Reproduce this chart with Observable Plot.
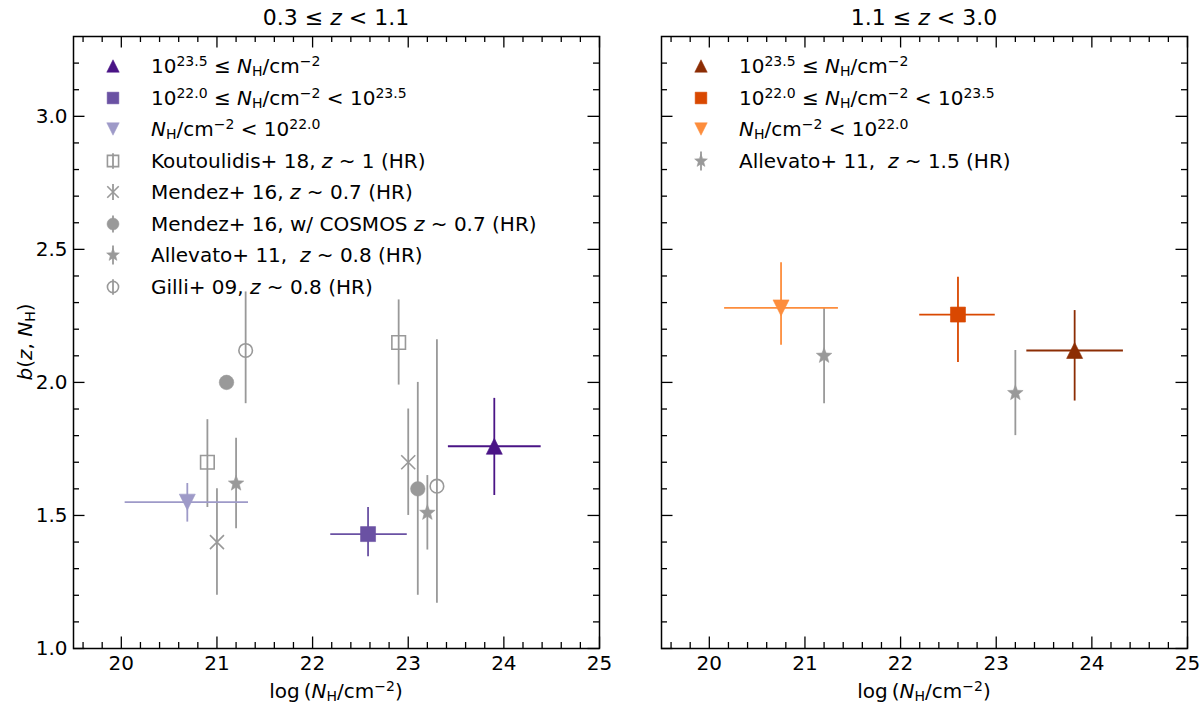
<!DOCTYPE html>
<html>
<head>
<meta charset="utf-8">
<script src="https://cdn.jsdelivr.net/npm/d3@7"></script>
<script src="https://cdn.jsdelivr.net/npm/@observablehq/plot@0.6"></script>
<style>
  body { margin: 0; background: #fff; font-family: "DejaVu Sans", sans-serif; }
  #fig { position: relative; width: 1200px; height: 709px; overflow: hidden; }
  #fig svg.plot { position: absolute; top: 0; }
  .t { position: absolute; white-space: nowrap; color: #000; line-height: 1; }
  .sup { font-size: 0.7em; position: relative; top: -0.5em; }
  .sub { font-size: 0.7em; position: relative; top: 0.22em; }
</style>
</head>
<body>
<div id="fig"></div>
<script>
// bias b(z, N_H) in N_H bins, two redshift ranges

// 0.3 <= z < 1.1 : our bins (high, mid, low N_H)
const binKeys = ["high", "mid", "low"];
const lowzNH = [23.90, 22.58, 20.69];
const lowzNHmin = [23.42, 22.19, 20.04];
const lowzNHmax = [24.39, 22.99, 21.33];
const lowzB = [1.76, 1.43, 1.55];
const lowzBmin = [1.575, 1.345, 1.475];
const lowzBmax = [1.94, 1.53, 1.62];

// 1.1 <= z < 3.0
const highzNH = [23.82, 22.60, 20.75];
const highzNHmin = [23.32, 22.20, 20.16];
const highzNHmax = [24.33, 22.99, 21.35];
const highzB = [2.12, 2.255, 2.28];
const highzBmin = [1.93, 2.075, 2.14];
const highzBmax = [2.27, 2.395, 2.45];

// literature, low z (soft = unabsorbed, hard = absorbed)
const litKeys = ["kout", "mendez", "cosmos", "allevato", "gilli"];
const litSoftNH = [20.9, 21.0, 21.1, 21.2, 21.3];
const litSoftB = [1.70, 1.40, 2.00, 1.62, 2.12];
const litSoftBmin = [1.53, 1.20, null, 1.45, 1.92];
const litSoftBmax = [1.86, 1.60, null, 1.79, 2.34];
const litHardNH = [22.9, 23.0, 23.1, 23.2, 23.3];
const litHardB = [2.15, 1.70, 1.60, 1.51, 1.61];
const litHardBmin = [1.99, 1.50, 1.20, 1.37, 1.17];
const litHardBmax = [2.31, 1.90, 2.00, 1.65, 2.16];

// literature, high z (Allevato+ 11, z~1.5)
const alleNH = [21.2, 23.2];
const alleB = [2.10, 1.96];
const alleBmin = [1.92, 1.80];
const alleBmax = [2.28, 2.12];

// ticks
const majorX = [20, 21, 22, 23, 24, 25];
const majorY = [1.0, 1.5, 2.0, 2.5, 3.0];

// legend texts
const binLabels = [
  '10<span class="sup">23.5</span> ≤ <i>N</i><span class="sub">H</span>/cm<span class="sup">−2</span>',
  '10<span class="sup">22.0</span> ≤ <i>N</i><span class="sub">H</span>/cm<span class="sup">−2</span> &lt; 10<span class="sup">23.5</span>',
  '<i>N</i><span class="sub">H</span>/cm<span class="sup">−2</span> &lt; 10<span class="sup">22.0</span>'
];
const litLabels = [
  'Koutoulidis+ 18, <i>z</i> ~ 1 (HR)',
  'Mendez+ 16, <i>z</i> ~ 0.7 (HR)',
  'Mendez+ 16, w/ COSMOS <i>z</i> ~ 0.7 (HR)',
  'Allevato+ 11,&nbsp; <i>z</i> ~ 0.8 (HR)',
  'Gilli+ 09, <i>z</i> ~ 0.8 (HR)'
];
const alleLabel = 'Allevato+ 11,&nbsp; <i>z</i> ~ 1.5 (HR)';

// styles
const purples = ["#4a1486", "#6a51a3", "#9e9ac8"];
const oranges = ["#8c2d04", "#d94801", "#fd8d3c"];
const gray = "#999999";
const binSym = ["up", "square", "down"];
const binR = [8, 7.5, 8];
const litSym = ["square", "times", "circle", "star", "circle"];
const litFilled = [false, false, true, true, false];
const litR = [6.8, 7, 7.3, 8.2, 6.8];

// marker shapes, r = half size in px (Plot passes size = r*r*PI)
const shapes = {
  up: (c, r) => { c.moveTo(0, -r); c.lineTo(r, r); c.lineTo(-r, r); c.closePath(); },
  down: (c, r) => { c.moveTo(0, r); c.lineTo(r, -r); c.lineTo(-r, -r); c.closePath(); },
  square: (c, r) => { c.moveTo(-r, -r); c.lineTo(r, -r); c.lineTo(r, r); c.lineTo(-r, r); c.closePath(); },
  circle: (c, r) => { c.moveTo(r, 0); c.arc(0, 0, r, 0, 2 * Math.PI); },
  times: (c, r) => { c.moveTo(-r, -r); c.lineTo(r, r); c.moveTo(-r, r); c.lineTo(r, -r); },
  star: (c, r) => {
    for (let i = 0; i < 10; i++) {
      const a = -Math.PI / 2 + i * Math.PI / 5, rr = i % 2 ? r * 0.43 : r;
      i ? c.lineTo(rr * Math.cos(a), rr * Math.sin(a)) : c.moveTo(rr * Math.cos(a), rr * Math.sin(a));
    }
    c.closePath();
  }
};
const SYM = Object.fromEntries(Object.entries(shapes).map(([k, f]) =>
  [k, {draw: (c, size) => f(c, Math.sqrt(size / Math.PI))}]));

const W = 600, H = 709, mT = 36, mB = 61;
const fig = d3.select("#fig");

function panel({mL, mR, left, offset, bins, lit}) {
  const fw = W - mL - mR, fh = H - mT - mB;
  const minorX = d3.range(19.6, 25, 0.2).filter(v => Math.abs(v - Math.round(v)) > 0.05);
  const minorY = d3.range(1.1, 3.25, 0.1).filter(v => Math.abs(v * 2 - Math.round(v * 2)) > 0.05);

  const marks = [
    // gray literature error bars + markers
    Plot.ruleX(lit.filter(d => d.y1 != null), {x: "x", y1: "y1", y2: "y2", stroke: gray, strokeWidth: 1.8}),
    ...lit.map(d => Plot.dot([d], {
      x: "x", y: "y", r: d.r, symbol: SYM[d.sym],
      fill: d.filled ? gray : "none", stroke: gray, strokeWidth: d.filled ? 0.5 : 1.6
    })),
    // our bins
    Plot.ruleY(bins, {y: "y", x1: "x1", x2: "x2", stroke: "color", strokeWidth: 1.8}),
    Plot.ruleX(bins, {x: "x", y1: "y1", y2: "y2", stroke: "color", strokeWidth: 1.8}),
    ...bins.map(d => Plot.dot([d], {x: "x", y: "y", r: d.r, symbol: SYM[d.sym], fill: d.color, stroke: d.color, strokeWidth: 0.6})),
    // inward ticks on four sides
    Plot.tickX(majorX, {insetTop: fh - 11.5, strokeWidth: 1.3}),
    Plot.tickX(minorX, {insetTop: fh - 6, strokeWidth: 1.3}),
    Plot.tickX(majorX, {insetBottom: fh - 11.5, strokeWidth: 1.3}),
    Plot.tickX(minorX, {insetBottom: fh - 6, strokeWidth: 1.3}),
    Plot.tickY(majorY, {insetRight: fw - 11.5, strokeWidth: 1.3}),
    Plot.tickY(minorY, {insetRight: fw - 6, strokeWidth: 1.3}),
    Plot.tickY(majorY, {insetLeft: fw - 11.5, strokeWidth: 1.3}),
    Plot.tickY(minorY, {insetLeft: fw - 6, strokeWidth: 1.3}),
    Plot.frame({stroke: "black", strokeWidth: 1.5}),
    Plot.axisX(majorX, {tickSize: 0, tickPadding: 7, tickFormat: d => d, label: null})
  ];
  if (left) marks.push(Plot.axisY(majorY, {tickSize: 0, tickPadding: 6, tickFormat: d3.format(".1f"), label: null}));

  const svg = Plot.plot({
    width: W, height: H,
    marginLeft: mL, marginRight: mR, marginTop: mT, marginBottom: mB,
    x: {domain: [19.5, 25]},
    y: left ? {domain: [1.0, 3.3]} : {domain: [1.0, 3.3], axis: null},
    color: {type: "identity"},
    style: {fontFamily: "DejaVu Sans, sans-serif", fontSize: "20px", color: "black", background: "transparent", overflow: "visible"},
    marks
  });
  svg.classList.add("plot");
  svg.style.left = offset + "px";
  fig.append(() => svg);
}

const rowsBins = (nh, nhmin, nhmax, b, bmin, bmax, colors) => binKeys.map((k, i) => ({
  k, x: nh[i], x1: nhmin[i], x2: nhmax[i], y: b[i], y1: bmin[i], y2: bmax[i],
  color: colors[i], sym: binSym[i], r: binR[i]
}));

const litLow = [
  ...litKeys.map((k, i) => ({k, x: litSoftNH[i], y: litSoftB[i], y1: litSoftBmin[i], y2: litSoftBmax[i], sym: litSym[i], filled: litFilled[i], r: litR[i]})),
  ...litKeys.map((k, i) => ({k, x: litHardNH[i], y: litHardB[i], y1: litHardBmin[i], y2: litHardBmax[i], sym: litSym[i], filled: litFilled[i], r: litR[i]}))
];
const litHigh = alleNH.map((x, i) => ({k: "allevato", x, y: alleB[i], y1: alleBmin[i], y2: alleBmax[i], sym: "star", filled: true, r: litR[3]}));

panel({mL: 73, mR: 1, left: true, offset: 0,
  bins: rowsBins(lowzNH, lowzNHmin, lowzNHmax, lowzB, lowzBmin, lowzBmax, purples), lit: litLow});
panel({mL: 61, mR: 13, left: false, offset: 600,
  bins: rowsBins(highzNH, highzNHmin, highzNHmax, highzB, highzBmin, highzBmax, oranges), lit: litHigh});

// text overlays
function txt(x, y, html, size, opts = {}) {
  const d = fig.append("div").attr("class", "t").html(html)
    .style("left", x + "px").style("top", y + "px").style("font-size", size + "px");
  const tx = opts.start ? "0" : "-50%";
  d.style("transform", `translate(${tx}, -50%)` + (opts.rotate ? ` rotate(${opts.rotate}deg)` : ""));
  return d;
}
txt(336, 18, '0.3 ≤ <i>z</i> &lt; 1.1', 22);
txt(924, 18, '1.1 ≤ <i>z</i> &lt; 3.0', 22);
const xlab = 'log<span style="margin-left:4px">(</span><i>N</i><span class="sub">H</span>/cm<span class="sup">−2</span>)';
txt(336, 691, xlab, 20);
txt(924, 691, xlab, 20);
txt(25, 342, '<i>b</i>(<i>z</i>, <i>N</i><span class="sub">H</span>)', 20, {rotate: -90});

// legend
function legendMarker(x, y, sym, r, color, filled, bar) {
  const s = 30;
  const svg = fig.append("svg").attr("width", s).attr("height", s)
    .style("position", "absolute").style("left", (x - s / 2) + "px").style("top", (y - s / 2) + "px");
  const g = svg.append("g").attr("transform", `translate(${s / 2},${s / 2})`);
  if (bar) g.append("line").attr("y1", -r * 1.4).attr("y2", r * 1.4).attr("stroke", color).attr("stroke-width", 1.8);
  const p = d3.path();
  shapes[sym](p, r);
  g.append("path").attr("d", p.toString())
    .attr("fill", filled ? color : "none").attr("stroke", color).attr("stroke-width", filled ? 0.5 : 1.6);
}
const rowY = [66, 97.5, 129, 160.5, 192, 223.5, 255, 286.5];
binKeys.forEach((k, i) => {
  legendMarker(113, rowY[i], binSym[i], binR[i] * 0.78, purples[i], true, false);
  txt(151, rowY[i], binLabels[i], 20, {start: true});
  legendMarker(701, rowY[i], binSym[i], binR[i] * 0.78, oranges[i], true, false);
  txt(739, rowY[i], binLabels[i], 20, {start: true});
});
litKeys.forEach((k, i) => {
  legendMarker(113, rowY[i + 3], litSym[i], litR[i] * 0.82, gray, litFilled[i], true);
  txt(151, rowY[i + 3], litLabels[i], 20, {start: true});
});
legendMarker(701, rowY[3], "star", litR[3] * 0.82, gray, true, true);
txt(739, rowY[3], alleLabel, 20, {start: true});
</script>
</body>
</html>
